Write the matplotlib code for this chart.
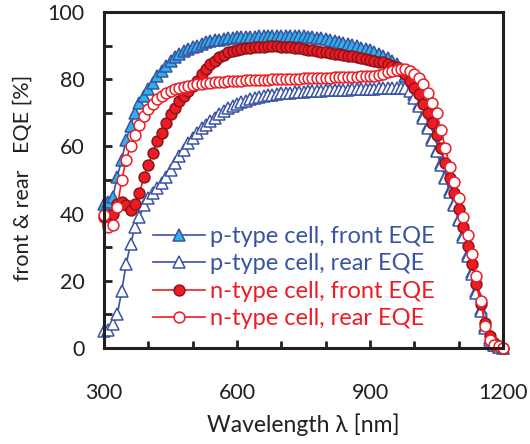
import numpy as np
import matplotlib
matplotlib.use("Agg")
import matplotlib.pyplot as plt
from matplotlib.ticker import MultipleLocator

plt.rcParams['font.family'] = ['Lato', 'DejaVu Sans']

wavelength = list(range(300, 1201, 10))

p_front = [43, 43.5, 45, 51, 56, 62, 66, 70, 73, 75,
           77, 79, 81, 82.5, 84, 85.5, 86.5, 87.5, 88.5, 89,
           89.5, 90, 90.5, 91, 91.3, 91.6, 91.8, 92, 92.2, 92.3,
           92.5, 92.5, 92.6, 92.7, 92.7, 92.8, 92.8, 92.9, 92.9, 93,
           93, 93, 93, 93, 92.9, 92.8, 92.7, 92.6, 92.4, 92.2,
           92, 91.7, 91.4, 91.1, 90.8, 90.5, 90.2, 89.8, 89.4, 89,
           88.6, 88.1, 87.6, 87, 86.3, 85.5, 84.5, 83, 81, 78.5,
           75.5, 72.5, 69, 66, 62.5, 59, 55, 51, 47, 43,
           38.5, 33.5, 28, 22.5, 17, 11.5, 6.5, 3, 1, 0.3,
           0]

p_rear = [5, 5.5, 7, 10, 17, 25, 31, 36, 39, 42.5,
          44.5, 46, 47.5, 49, 51, 53, 55, 57, 59, 61,
          62.5, 64, 65.5, 66.5, 67.5, 68.5, 69.5, 70.5, 71.3, 72,
          72.6, 73.1, 73.6, 74, 74.4, 74.7, 75, 75.2, 75.4, 75.6,
          75.8, 75.9, 76, 76.1, 76.2, 76.3, 76.4, 76.5, 76.5, 76.6,
          76.7, 76.7, 76.8, 76.8, 76.9, 76.9, 77, 77, 77.1, 77.1,
          77.2, 77.2, 77.3, 77.3, 77.4, 77.4, 77.5, 77.5, 77.3, 76.5,
          74.5, 72, 68.5, 65.5, 62, 58.5, 54.5, 50.5, 46.5, 42.5,
          38, 33, 27.5, 22, 16.5, 11, 6, 2.5, 0.8, 0.2,
          0]

n_front = [39, 37, 40, 43, 43.5, 42.5, 41, 43, 46, 51,
           54.5, 58, 61.5, 64, 67, 69.5, 71.5, 73.5, 75, 76.5,
           78, 79.5, 81.5, 83, 84.5, 85.5, 86.5, 87.3, 88, 88.5,
           88.8, 89, 89.2, 89.4, 89.5, 89.6, 89.7, 89.8, 89.8, 89.8,
           89.7, 89.6, 89.5, 89.4, 89.2, 89, 88.8, 88.6, 88.4, 88.2,
           88, 87.8, 87.6, 87.4, 87.2, 87, 86.8, 86.5, 86.2, 86,
           85.8, 85.5, 85.2, 85, 84.5, 84, 83.5, 82.5, 81.5, 79.5,
           77.5, 75.5, 72.5, 70, 67, 63.5, 59.5, 55, 50.5, 46,
           41.5, 36, 30.5, 25, 19, 13, 7.5, 3.5, 1.5, 0.5,
           0]

n_rear = [39.5, 36, 36.5, 42, 50, 56, 60, 63.5, 66.5, 69,
          71, 72.5, 74, 75, 75.8, 76.5, 77, 77.5, 77.8, 78,
          78.3, 78.5, 78.7, 78.9, 79, 79.1, 79.2, 79.3, 79.4, 79.5,
          79.6, 79.6, 79.7, 79.7, 79.8, 79.8, 79.9, 79.9, 80, 80,
          80, 80.1, 80.1, 80.2, 80.2, 80.3, 80.3, 80.4, 80.4, 80.5,
          80.5, 80.5, 80.6, 80.6, 80.7, 80.7, 80.8, 80.8, 80.9, 80.9,
          81, 81.1, 81.3, 81.6, 82, 82.4, 82.8, 83, 83, 82.5,
          81.5, 80.5, 78.5, 76, 73, 70, 65, 59.5, 54, 49.5,
          44.5, 39, 33.5, 28, 21.5, 14, 6.5, 2.5, 1, 0.5,
          0]

labels = ["p-type cell, front EQE", "p-type cell, rear EQE",
          "n-type cell, front EQE", "n-type cell, rear EQE"]

xticks = [300, 600, 900, 1200]
yticks = [0, 20, 40, 60, 80, 100]

BLUE = "#3953a4"
LBLUE = "#2fb0e6"
RED = "#ed1c24"
DRED = "#8c1418"
DARK = "#231f20"

fig = plt.figure(figsize=(5.30, 4.44), dpi=100)
ax = fig.add_axes([104/530, 1-348/444, 399/530, 336/444])

ms_t = 8.5
ms_c = 7.8
lw = 1.2
ax.plot(wavelength, p_front, color=BLUE, lw=lw, marker='^', ms=ms_t,
        mfc=LBLUE, mec=BLUE, mew=1.1, label=labels[0], clip_on=False)
ax.plot(wavelength, p_rear, color=BLUE, lw=lw, marker='^', ms=ms_t,
        mfc='white', mec=BLUE, mew=1.1, label=labels[1], clip_on=False)
ax.plot(wavelength, n_front, color=RED, lw=lw, marker='o', ms=ms_c,
        mfc=RED, mec=DRED, mew=1.1, label=labels[2], clip_on=False)
ax.plot(wavelength, n_rear, color=RED, lw=lw, marker='o', ms=ms_c,
        mfc='white', mec=RED, mew=1.1, label=labels[3], clip_on=False)

ax.set_xlim(300, 1200)
ax.set_ylim(0, 100)
ax.set_xticks(xticks)
ax.set_yticks(yticks)
ax.xaxis.set_minor_locator(MultipleLocator(100))
ax.yaxis.set_minor_locator(MultipleLocator(10))

for s in ax.spines.values():
    s.set_linewidth(2.2)
    s.set_color(DARK)

ax.tick_params(which='both', direction='in', color=DARK, width=2,
               top=False, right=False, labelsize=15.5, labelcolor=DARK)
ax.tick_params(axis='x', which='major', length=6, pad=25)
ax.tick_params(axis='x', which='minor', length=5)
ax.tick_params(axis='y', which='both', length=6, pad=14)

ax.set_xlabel("Wavelength λ [nm]", fontsize=16.5, color=DARK, labelpad=8)
ax.set_ylabel("front & rear   EQE [%]", fontsize=15.5, color=DARK)
ax.yaxis.set_label_coords(-0.203, 0.506)
ax.yaxis.label.set_verticalalignment('center')

leg = ax.legend(loc='upper left', bbox_to_anchor=(0.099, 0.391),
                frameon=False, fontsize=17, handlelength=2.2,
                handletextpad=0.21, labelspacing=0.27, borderaxespad=0)
for txt, c in zip(leg.get_texts(), [BLUE, BLUE, RED, RED]):
    txt.set_color(c)

fig.savefig("out.png", dpi=100)
